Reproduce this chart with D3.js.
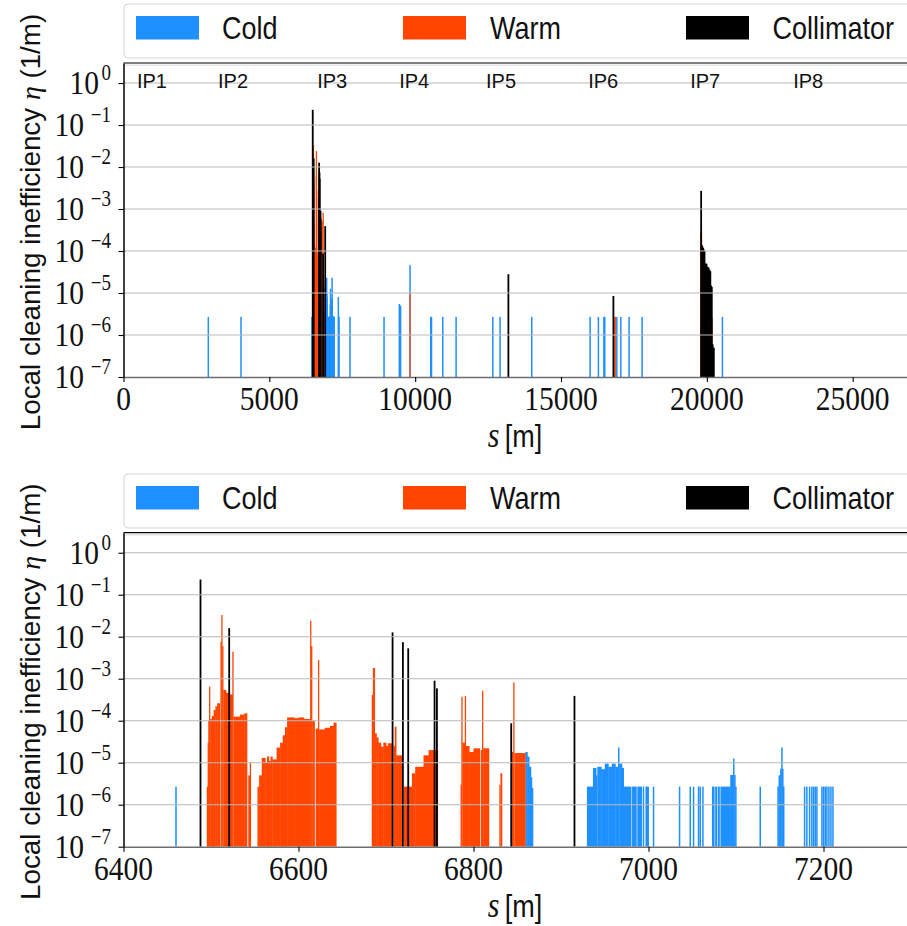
<!DOCTYPE html>
<html>
<head>
<meta charset="utf-8">
<script src="https://cdn.jsdelivr.net/npm/d3@7"></script>
<style>
  body { margin: 0; background: #fff; }
</style>
</head>
<body>
<svg id="chart" width="907" height="926"></svg>
<script>
// ---- data: loss maps, bars as [s_start (m), s_end (m), eta (1/m)] ----
var categories = ["Cold", "Warm", "Collimator"];
var catColors = ["#1e90ff", "#ff4500", "#000000"];

var ipNames = ["IP1", "IP2", "IP3", "IP4", "IP5", "IP6", "IP7", "IP8"];
var ipPos = [460, 3240, 6640, 9450, 12430, 15930, 19430, 22960];

var yTicks = [1e-7, 1e-6, 1e-5, 1e-4, 1e-3, 1e-2, 1e-1, 1e0];
var yTickExp = ["\u22127", "\u22126", "\u22125", "\u22124", "\u22123", "\u22122", "\u22121", "0"];
var ringTicks = [0, 5000, 10000, 15000, 20000, 25000];
var zoomTicks = [6400, 6600, 6800, 7000, 7200];

var coldBars = [
  [2908, 2908, 2.7e-6], [4029, 4029, 2.7e-6], [6460, 6460, 2.7e-6],
  [6859.2, 6861.5, 1.8e-5], [6861.5, 6863.5, 1.4e-5], [6863.5, 6865.5, 8e-6],
  [6865.5, 6867, 4.5e-6], [6867, 6868, 2.5e-6],
  [6929.6, 6936.5, 2.7e-6], [6936.5, 6940, 7.5e-6], [6940, 6941.5, 5e-6],
  [6941.5, 6946, 8e-6], [6946, 6950, 7e-6], [6950, 6954, 9.5e-6],
  [6954, 6958, 8e-6], [6958, 6962, 9.5e-6], [6962, 6965.5, 8e-6],
  [6965.5, 6966.5, 2.3e-5], [6966.5, 6969.5, 9.5e-6], [6969.5, 6971.5, 7.5e-6],
  [6971.5, 6980, 2.7e-6], [6981.2, 6986, 2.7e-6], [6987.2, 6992, 2.7e-6],
  [6993.5, 6995, 2.7e-6], [6996.5, 7000, 2.7e-6], [7005.8, 7005.8, 2.7e-6],
  [7035.5, 7035.5, 2.7e-6], [7047.7, 7047.7, 2.7e-6], [7051.5, 7051.5, 2.7e-6],
  [7057.2, 7057.2, 2.7e-6], [7059.1, 7059.1, 2.7e-6], [7062.2, 7062.2, 2.7e-6],
  [7072.5, 7075, 2.7e-6], [7076.2, 7078, 2.7e-6], [7079.2, 7081, 2.7e-6],
  [7082.2, 7093.4, 2.7e-6], [7093.4, 7097, 5.1e-6], [7097, 7098, 1.26e-5],
  [7098, 7099.5, 5.1e-6], [7099.5, 7100.3, 2.7e-6], [7127.7, 7127.7, 2.7e-6],
  [7147.5, 7148.6, 2.7e-6], [7148.6, 7150.5, 5e-6], [7150.5, 7152, 7.2e-6],
  [7152, 7153, 2.3e-5], [7153, 7154, 7.2e-6], [7154, 7155.1, 2.7e-6],
  [7178.4, 7178.4, 2.7e-6], [7181, 7181, 2.7e-6], [7184.1, 7184.1, 2.7e-6],
  [7186.7, 7186.7, 2.7e-6], [7188.7, 7188.7, 2.7e-6], [7190.6, 7190.6, 2.7e-6],
  [7192.5, 7192.5, 2.7e-6], [7198.2, 7198.2, 2.7e-6], [7200.1, 7200.1, 2.7e-6],
  [7202, 7202, 2.7e-6], [7203.9, 7203.9, 2.7e-6], [7206.2, 7206.2, 2.7e-6],
  [7208.5, 7208.5, 2.7e-6], [7210.8, 7210.8, 2.7e-6],
  [7366, 7366, 8e-6], [7390, 7390, 2.7e-6], [7767, 7767, 2.7e-6],
  [8933, 8933, 2.7e-6], [9458, 9458, 5.5e-6], [9500, 9500, 5e-6],
  [9825, 9825, 4.6e-5], [10535, 10535, 2.7e-6], [10560, 10560, 2.7e-6],
  [10946, 10946, 2.7e-6], [11403, 11403, 2.7e-6], [12661, 12661, 2.7e-6],
  [12911, 12911, 2.7e-6], [13998, 13998, 2.7e-6], [15998, 15998, 2.7e-6],
  [16282, 16282, 2.7e-6], [16470, 16470, 2.7e-6], [16500, 16500, 2.7e-6],
  [16913, 16913, 2.7e-6], [17051, 17051, 2.7e-6], [17335, 17335, 2.7e-6],
  [17781, 17781, 2.7e-6], [20535, 20535, 2.7e-6]
];

var warmBars = [
  [6495.3, 6496.5, 2.7e-6], [6496.5, 6497.3, 3e-5], [6497.3, 6498, 1.0e-4],
  [6498, 6499, 6.5e-4], [6499, 6501, 1.1e-4], [6501, 6503, 1.3e-4],
  [6503, 6505, 1.8e-4], [6505, 6507, 2.2e-4], [6507, 6509.8, 2.6e-4],
  [6511, 6512, 7.6e-3], [6512, 6513, 3.3e-2], [6513, 6514, 6e-3],
  [6514, 6517, 5.4e-4], [6517, 6520, 4.6e-4], [6520, 6524.5, 4.2e-4],
  [6524.5, 6525.7, 4.4e-3], [6525.7, 6533, 1.25e-4], [6533, 6538, 1.4e-4],
  [6538, 6541, 1.5e-4], [6542.6, 6544.5, 5e-6], [6544.5, 6545.6, 1e-5],
  [6553.1, 6555, 2.7e-6], [6555, 6558, 5e-6], [6558, 6562, 1.3e-5],
  [6562, 6564, 1e-5], [6564, 6566, 1.4e-5], [6566, 6568, 1.1e-5],
  [6568, 6570, 1.4e-5], [6570, 6575, 1.2e-5], [6575, 6579, 2.3e-5],
  [6579, 6582, 3e-5], [6582, 6584.5, 4.5e-5], [6584.5, 6587, 7e-5],
  [6587, 6595, 1.2e-4], [6595, 6600, 1.15e-4], [6600, 6606, 1.2e-4],
  [6606, 6613.4, 1.1e-4], [6613.4, 6614.6, 2.4e-2], [6614.6, 6615.6, 6e-3],
  [6615.6, 6618.2, 1.0e-4], [6619.6, 6622.5, 6.5e-5], [6622.5, 6623.5, 2.8e-3],
  [6623.5, 6630, 6.2e-5], [6630, 6636, 6.8e-5], [6636, 6640, 7.5e-5],
  [6640, 6643, 9e-5],
  [6683.9, 6685, 4.1e-4], [6685, 6687, 1.8e-3], [6687, 6689, 5e-5],
  [6689, 6691, 4e-5], [6691, 6694, 3e-5], [6694, 6697, 2.4e-5],
  [6697, 6700, 3e-5], [6700, 6702, 2.5e-5], [6702, 6706.5, 2.9e-5],
  [6708.5, 6710, 2.5e-5], [6710, 6711.5, 7.2e-5], [6711.5, 6718.5, 1.5e-5],
  [6720.5, 6725, 2.7e-6], [6725.8, 6729.6, 2.7e-6], [6729.6, 6733.4, 5.6e-6],
  [6733.4, 6742.9, 8e-6], [6742.9, 6748.7, 1.5e-5], [6748.7, 6759, 2e-5],
  [6785.6, 6786.3, 3e-6], [6786.3, 6787.3, 3.7e-4], [6787.3, 6790.3, 3e-5],
  [6790.3, 6791.3, 3.9e-4], [6791.3, 6795, 2.5e-5], [6795, 6800, 1.8e-5],
  [6800, 6807, 2.2e-5], [6808.3, 6810, 2e-5], [6810, 6811, 5.2e-4],
  [6811, 6817.5, 2.2e-5], [6829.7, 6830.8, 3e-6], [6830.8, 6832.4, 5.6e-6],
  [6844, 6845.5, 1.8e-5], [6845.5, 6846.8, 8.2e-4], [6846.8, 6859, 1.7e-5],
  [9825, 9825, 1e-5], [16821, 16821, 2.7e-6], [16860, 16860, 2.7e-6],
  [19790, 19790, 2.6e-4], [19815, 19815, 3e-4], [19860, 19860, 1e-5],
  [19900, 19900, 5e-6], [20020, 20020, 4.7e-6], [20045, 20045, 4.7e-6],
  [20180, 20180, 2.5e-6]
];

var collBars = [
  [6488, 6488, 0.23], [6520.8, 6520.8, 0.016], [6707.5, 6707.5, 0.0127],
  [6719.3, 6719.3, 7.4e-3], [6725.4, 6725.4, 5.3e-3], [6755.5, 6755.5, 9e-4],
  [6758.2, 6758.2, 5.9e-4], [6843.1, 6843.1, 8.7e-5], [6915.4, 6915.4, 3.9e-4],
  [13196, 13196, 2.8e-5], [16797, 16797, 8.5e-6],
  [19805, 19805, 2.7e-3], [19828, 19828, 1.4e-4], [19845, 19845, 1.3e-4],
  [19870, 19870, 1.2e-4], [19890, 19890, 1.1e-4], [19920, 19920, 1e-4],
  [19965, 19965, 5e-5], [19990, 19990, 5e-5], [20034, 20034, 4.2e-5],
  [20060, 20060, 4e-5], [20090, 20090, 3.6e-5], [20120, 20120, 3.3e-5],
  [20147, 20147, 1.5e-5], [20170, 20170, 1.4e-5], [20200, 20200, 6e-7],
  [20240, 20240, 5e-7]
];

var allBars = [coldBars, warmBars, collBars];
var minWidth = [1.5, 1.3, 1.8];

// ---- layout ----
var SY = 1.17; // the original figure is a bit taller than wide
var left = 123.5, width = 787.5, height = 314;
var sans = "'Liberation Sans', Arial, sans-serif";
var serif = "'Liberation Serif', 'Times New Roman', serif";

var panels = [
  {top: 63, legendTop: 4, domain: [0, 27000], ticks: ringTicks, ip: true, id: "ring"},
  {top: 532.7, legendTop: 474, domain: [6400, 7300], ticks: zoomTicks, ip: false, id: "zoom"}
];

var svg = d3.select("#chart");
svg.append("rect").attr("width", 907).attr("height", 926).attr("fill", "#fff");

function stext(g, x, y) {
  return g.append("text")
    .attr("transform", "translate(" + x + "," + y + ") scale(1," + SY + ")");
}

panels.forEach(function(p) {
  var x = d3.scaleLinear().domain(p.domain).range([left, left + width]);
  var y = d3.scaleLog().domain([1e-7, 3]).range([p.top + height, p.top]);
  var g = svg.append("g");

  // Legend
  var lg = g.append("g");
  lg.append("rect")
    .attr("x", 124).attr("y", p.legendTop)
    .attr("width", 790).attr("height", 54)
    .attr("rx", 4)
    .attr("fill", "#fff")
    .attr("stroke", "#d5d5d5");
  var patchX = [136, 403, 686];
  var textX = [222, 490, 772.5];
  categories.forEach(function(c, i) {
    lg.append("rect")
      .attr("x", patchX[i]).attr("y", p.legendTop + 12)
      .attr("width", 63).attr("height", 23.5)
      .attr("fill", catColors[i]);
    stext(lg, textX[i], p.legendTop + 35)
      .attr("font-family", sans)
      .style("font-size", "27px")
      .attr("fill", "#111")
      .text(c);
  });

  // clip
  svg.append("clipPath").attr("id", "clip-" + p.id)
    .append("rect")
      .attr("x", left).attr("y", p.top)
      .attr("width", width).attr("height", height);

  var plot = g.append("g").attr("clip-path", "url(#clip-" + p.id + ")");

  // Bars: cold, warm, collimator (ranges overlap a hair so neighbours join)
  allBars.forEach(function(bars, ci) {
    plot.append("g")
      .selectAll("rect")
      .data(bars)
      .enter().append("rect")
        .attr("x", function(d) {
          var w = x(d[1]) - x(d[0]);
          return w < minWidth[ci] ? (x(d[0]) + x(d[1])) / 2 - minWidth[ci] / 2 : x(d[0]);
        })
        .attr("width", function(d) {
          var w = x(d[1]) - x(d[0]);
          return w < minWidth[ci] ? minWidth[ci] : w + 0.45;
        })
        .attr("y", function(d) { return y(d[2]); })
        .attr("height", function(d) { return y(1e-7) - y(d[2]); })
        .attr("fill", catColors[ci]);
  });

  // Grid (drawn above the bars, as in the original)
  g.append("g")
    .selectAll("line")
    .data(yTicks.slice(1))
    .enter().append("line")
      .attr("x1", left).attr("x2", left + width)
      .attr("y1", function(d) { return y(d); })
      .attr("y2", function(d) { return y(d); })
      .attr("stroke", "#b9b9b9")
      .attr("stroke-width", 1.1);

  // Top spine
  g.append("line")
    .attr("x1", left).attr("x2", left + width)
    .attr("y1", p.top).attr("y2", p.top)
    .attr("stroke", "#000").attr("stroke-width", 1.2);
  g.append("line")
    .attr("x1", left).attr("x2", left + width)
    .attr("y1", p.top + 2.2).attr("y2", p.top + 2.2)
    .attr("stroke", "#d8d8d8").attr("stroke-width", 1);

  // x axis
  var xa = g.append("g")
    .attr("transform", "translate(0," + (p.top + height) + ")")
    .call(d3.axisBottom(x).tickValues(p.ticks).tickSize(5).tickSizeOuter(0).tickFormat(""));
  xa.select(".domain").attr("stroke", "#6e6e6e").attr("stroke-width", 1.6);
  xa.selectAll(".tick line").attr("stroke", "#000").attr("stroke-width", 1.1);
  p.ticks.forEach(function(t) {
    stext(g, x(t), p.top + height + 33)
      .attr("text-anchor", "middle")
      .attr("font-family", serif)
      .style("font-size", "29.5px")
      .attr("fill", "#111")
      .text(t);
  });

  // y axis: "10" and its exponent as two texts
  var ya = g.append("g")
    .attr("transform", "translate(" + left + ",0)")
    .call(d3.axisLeft(y).tickValues(yTicks).tickSize(5).tickSizeOuter(0).tickFormat(""));
  ya.select(".domain").attr("stroke", "#000").attr("stroke-width", 1.5);
  ya.selectAll(".tick line").attr("stroke", "#000").attr("stroke-width", 1.1);
  yTicks.forEach(function(t, i) {
    var expW = yTickExp[i].length > 1 ? 27 : 12;
    stext(g, 111, y(t) - 3)
      .attr("text-anchor", "end")
      .attr("font-family", serif)
      .style("font-size", "19px")
      .attr("fill", "#111")
      .text(yTickExp[i]);
    stext(g, 111 - expW, y(t) + 11)
      .attr("text-anchor", "end")
      .attr("font-family", serif)
      .style("font-size", "29.5px")
      .attr("fill", "#111")
      .text("10");
  });

  // IP labels
  if (p.ip) {
    ipNames.forEach(function(n, i) {
      g.append("text")
        .attr("x", x(ipPos[i])).attr("y", p.top + 25)
        .attr("font-family", sans)
        .style("font-size", "20px")
        .attr("fill", "#111")
        .text(n);
    });
  }

  // Axis labels
  var xl = stext(g, 515, p.top + height + 70)
    .attr("text-anchor", "middle")
    .attr("fill", "#111");
  xl.append("tspan").attr("font-family", serif).style("font-style", "italic").style("font-size", "30px").text("s");
  xl.append("tspan").attr("font-family", sans).style("font-size", "27px").text("\u2009[m]");

  var yl = g.append("text")
    .attr("transform", "translate(40," + (p.top + height / 2 + 2) + ") rotate(-90) scale(1.03,1)")
    .attr("text-anchor", "middle")
    .attr("font-family", sans)
    .style("font-size", "27px")
    .attr("fill", "#111");
  yl.append("tspan").text("Local cleaning inefficiency ");
  yl.append("tspan").attr("font-family", serif).style("font-style", "italic").text("\u03b7");
  yl.append("tspan").text(" (1/m)");
});
</script>
</body>
</html>
